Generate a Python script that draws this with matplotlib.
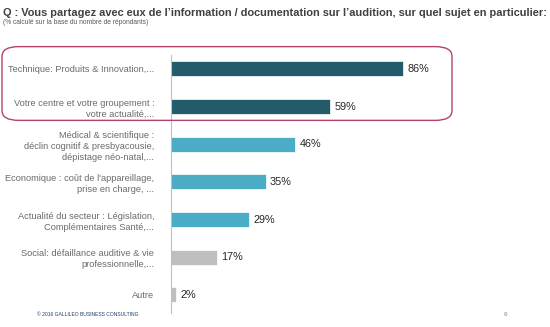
import matplotlib.pyplot as plt
from matplotlib.patches import FancyBboxPatch

plt.rcParams["font.family"] = ["Liberation Sans", "DejaVu Sans"]

labels = [
    "Technique: Produits & Innovation,...",
    "Votre centre et votre groupement :\nvotre actualité,...",
    "Médical & scientifique :\ndéclin cognitif & presbyacousie,\ndépistage néo-natal,...",
    "Economique : coût de l'appareillage,\nprise en charge, ...",
    "Actualité du secteur : Législation,\nComplémentaires Santé,...",
    "Social: défaillance auditive & vie\nprofessionnelle,...",
    "Autre",
]
values = [86, 59, 46, 35, 29, 17, 2]
colors = ["#235B6A", "#235B6A", "#4BACC6", "#4BACC6", "#4BACC6", "#BFBFBF", "#BFBFBF"]

W, H = 550, 327
fig = plt.figure(figsize=(W / 100, H / 100), dpi=100)
ax = fig.add_axes([171 / W, 1 - 313 / H, 270 / W, 258 / H])

ypos = list(range(len(values)))
bars = ax.barh(ypos, values, height=0.4, color=colors, edgecolor="white", linewidth=0.5)
for b, v in zip(bars, values):
    ax.text(b.get_width() + 1.5, b.get_y() + b.get_height() / 2, f"{v}%",
            va="center", ha="left", fontsize=7.8, color="#262626")

ax.set_xlim(0, 100)
ax.set_ylim(6.48, -0.37)
ax.set_yticks(ypos)
ax.set_yticklabels(labels, fontsize=6.7, color="#6b6b6b", linespacing=1.3)
ax.tick_params(axis="y", length=0, pad=12)
ax.set_xticks([])
for s in ["top", "right", "bottom"]:
    ax.spines[s].set_visible(False)
ax.spines["left"].set_color("#bfbfbf")
ax.spines["left"].set_linewidth(0.8)

# rounded highlight box around the two first rows
box = FancyBboxPatch((2 / W + 0.01, 1 - 122 / H + 0.015), 450 / W - 0.02, 77 / H - 0.03,
                     boxstyle="round,pad=0.01,rounding_size=0.03",
                     transform=fig.transFigure, fill=False,
                     edgecolor="#B5406E", linewidth=1.0)
fig.patches.append(box)

fig.text(3 / W, 1 - 13 / H, "Q : Vous partagez avec eux de l\u2019information / documentation sur l\u2019audition, sur quel sujet en particulier:",
         fontsize=7.95, fontweight="bold", color="#404040", va="center", ha="left")
fig.text(3 / W, 1 - 22 / H, "(% calculé sur la base du nombre de répondants)",
         fontsize=4.8, color="#595959", va="center", ha="left")
fig.text(37 / W, 1 - 314 / H, "\u00a9 2016 GALLILEO BUSINESS CONSULTING",
         fontsize=3.6, color="#1F3F6A", va="center", ha="left")
fig.text(505 / W, 1 - 314 / H, "6", fontsize=4.5, color="#7f7f7f", va="center", ha="center")

fig.savefig("out.png", dpi=100)
